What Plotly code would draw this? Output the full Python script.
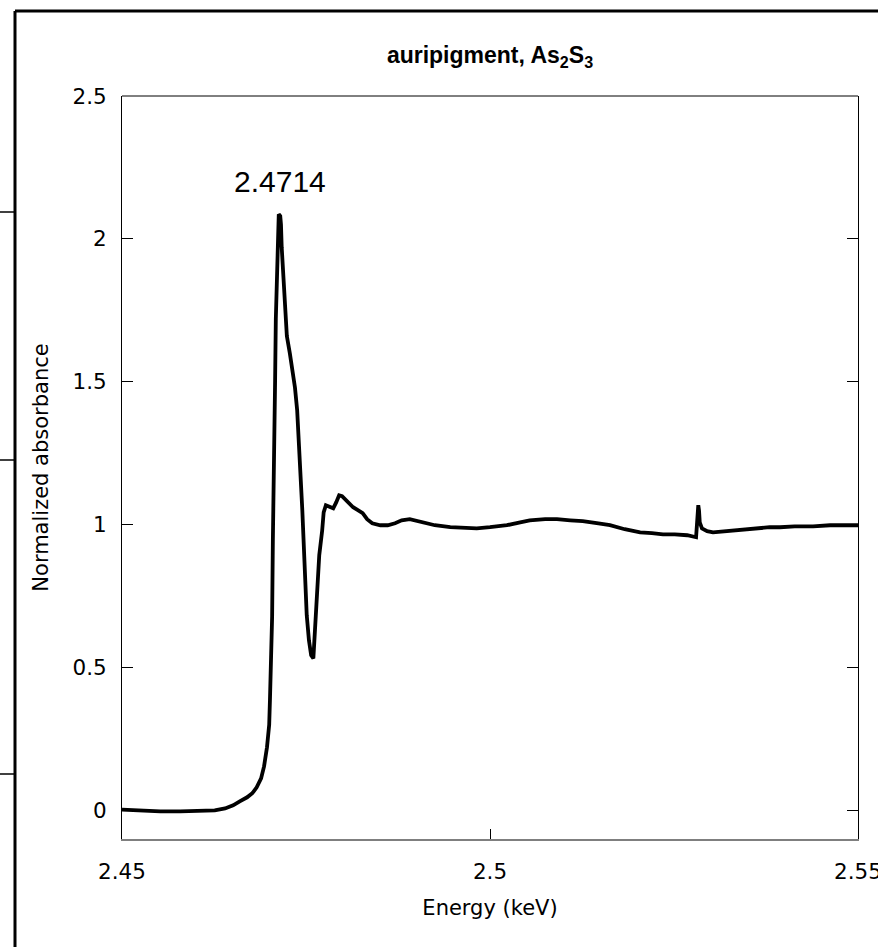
import plotly.graph_objects as go

energy_kev = [
    2.4500, 2.4524, 2.4552, 2.4579, 2.4606, 2.4626, 2.4640, 2.4651, 2.4660, 2.4670,
    2.4677, 2.4683, 2.4689, 2.4693, 2.4697, 2.4700, 2.4701, 2.4702, 2.4704, 2.4705,
    2.4706, 2.4708, 2.4709, 2.4711, 2.4712, 2.4713, 2.4715, 2.4716, 2.4717, 2.4719,
    2.4721, 2.4724, 2.4728, 2.4732, 2.4735, 2.4738, 2.4742, 2.4745, 2.4749, 2.4751,
    2.4754, 2.4757, 2.4760, 2.4761, 2.4762, 2.4765, 2.4768, 2.4772, 2.4774, 2.4777,
    2.4781, 2.4787, 2.4791, 2.4795, 2.4799, 2.4803, 2.4808, 2.4814, 2.4821, 2.4827,
    2.4833, 2.4840, 2.4851, 2.4861, 2.4871, 2.4880, 2.4891, 2.4902, 2.4912, 2.4925,
    2.4946, 2.4966, 2.4982, 2.5000, 2.5023, 2.5041, 2.5054, 2.5075, 2.5091, 2.5109,
    2.5126, 2.5145, 2.5163, 2.5183, 2.5204, 2.5220, 2.5235, 2.5251, 2.5268, 2.5280,
    2.5281, 2.5283, 2.5284, 2.5285, 2.5288, 2.5295, 2.5303, 2.5319, 2.5333, 2.5349,
    2.5367, 2.5380, 2.5394, 2.5414, 2.5439, 2.5462, 2.5482, 2.5500,
]
absorbance = [
    0.003, 0.000, -0.003, -0.003, -0.003, 0.000, 0.007, 0.018, 0.032, 0.046,
    0.060, 0.081, 0.112, 0.154, 0.221, 0.300, 0.385, 0.500, 0.680, 0.950,
    1.250, 1.500, 1.720, 1.900, 2.030, 2.086, 2.080, 2.050, 1.970, 1.880,
    1.760, 1.660, 1.600, 1.540, 1.480, 1.400, 1.215, 1.050, 0.805, 0.683,
    0.595, 0.543, 0.532, 0.578, 0.665, 0.805, 0.893, 0.980, 1.043, 1.068,
    1.064, 1.057, 1.078, 1.103, 1.100, 1.089, 1.075, 1.061, 1.050, 1.040,
    1.019, 1.005, 0.998, 0.998, 1.005, 1.015, 1.019, 1.012, 1.005, 0.998,
    0.991, 0.987, 0.987, 0.991, 0.998, 1.008, 1.015, 1.019, 1.019, 1.015,
    1.012, 1.005, 0.998, 0.984, 0.973, 0.970, 0.966, 0.966, 0.963, 0.956,
    1.020, 1.068, 1.050, 1.008, 0.987, 0.977, 0.973, 0.977, 0.980, 0.984,
    0.987, 0.991, 0.991, 0.994, 0.994, 0.998, 0.998, 0.998,
]

x_ticks = [2.45, 2.5, 2.55]
x_tick_labels = ["2.45", "2.5", "2.55"]
y_ticks = [0, 0.5, 1, 1.5, 2, 2.5]
y_tick_labels = ["0", "0.5", "1", "1.5", "2", "2.5"]

peak_energy = 2.4714
peak_label = "2.4714"
peak_label_y = 2.20

title_text = "auripigment, As<sub>2</sub>S<sub>3</sub>"

W, H = 878, 947
L, R, T, B = 122, 20, 96, 108
PW, PH = W - L - R, H - T - B


def px_x(px):
    return (px - L) / PW


def px_y(py):
    return 1 - (py - T) / PH


fig = go.Figure()
fig.add_trace(go.Scatter(
    x=energy_kev, y=absorbance, mode="lines",
    line=dict(color="black", width=3.8),
    showlegend=False, hoverinfo="skip",
))

tick_font = dict(family="DejaVu Sans", size=21.5, color="black")
title_font = dict(family="DejaVu Sans", size=21, color="black")

fig.update_layout(
    width=W, height=H,
    margin=dict(l=L, r=R, t=T, b=B, autoexpand=False),
    paper_bgcolor="white", plot_bgcolor="white",
    title=dict(text=title_text, x=(L + PW / 2) / W, xanchor="center",
               y=1 - 55 / H, yanchor="middle", yref="container",
               font=dict(family="Liberation Sans", size=23, color="black", weight="bold")),
    xaxis=dict(
        range=[2.45, 2.55], tickvals=x_ticks, ticktext=x_tick_labels,
        ticks="inside", ticklen=10, tickcolor="black", tickwidth=1,
        showline=True, linecolor="#7f7f7f", linewidth=2, mirror=False,
        showgrid=False, zeroline=False, tickfont=tick_font, automargin=False,
        ticklabelstandoff=12, ticklabeloverflow="allow",
        title=dict(text="Energy (keV)", font=title_font, standoff=18),
    ),
    yaxis=dict(
        range=[-0.1, 2.5], tickvals=y_ticks, ticktext=y_tick_labels,
        ticks="inside", ticklen=11, tickcolor="black", tickwidth=1,
        showline=True, linecolor="black", linewidth=1, mirror="ticks",
        showgrid=False, zeroline=False, tickfont=tick_font, automargin=False,
        ticklabelstandoff=10,
        title=dict(text="Normalized absorbance", font=title_font, standoff=18),
    ),
    annotations=[dict(
        x=peak_energy, y=peak_label_y, xref="x", yref="y", text=peak_label,
        showarrow=False, xanchor="center", yanchor="middle",
        font=dict(family="Liberation Sans", size=30, color="black"),
    )],
    shapes=[
        dict(type="line", xref="paper", yref="paper", x0=0, x1=1, y0=1, y1=1,
             line=dict(color="black", width=1)),
        dict(type="line", xref="paper", yref="paper",
             x0=px_x(15), x1=px_x(880), y0=px_y(11), y1=px_y(11),
             line=dict(color="black", width=3)),
        dict(type="line", xref="paper", yref="paper",
             x0=px_x(15), x1=px_x(15), y0=px_y(11), y1=px_y(960),
             line=dict(color="black", width=3)),
    ] + [
        dict(type="line", xref="paper", yref="paper",
             x0=px_x(0), x1=px_x(15), y0=px_y(py), y1=px_y(py),
             line=dict(color="black", width=1.5))
        for py in [212, 460, 774]
    ],
)

fig.write_html(
    "out.html",
    config={"displayModeBar": False, "staticPlot": True},
    post_script="document.body.style.margin='0px';document.body.style.overflow='hidden';",
)
